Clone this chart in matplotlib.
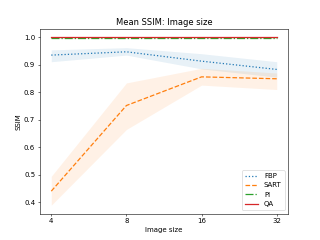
import numpy as np
import matplotlib
matplotlib.use("Agg")
from matplotlib import pyplot as plt

# image sizes and mean SSIM per method, with the shaded band limits
sizes = [4, 8, 16, 32]
methods = ["FBP", "SART", "PI", "QA"]

fbp = [0.935, 0.947, 0.913, 0.883]
fbp_lo = [0.911, 0.935, 0.885, 0.855]
fbp_hi = [0.954, 0.962, 0.940, 0.911]

sart = [0.441, 0.752, 0.856, 0.849]
sart_lo = [0.390, 0.665, 0.826, 0.810]
sart_hi = [0.495, 0.834, 0.887, 0.870]

pi = [0.996, 0.996, 0.996, 0.996]
pi_lo = [0.994, 0.994, 0.994, 0.994]
pi_hi = [0.998, 0.998, 0.998, 0.998]

qa = [1.0, 1.0, 1.0, 1.0]
qa_lo = [0.999, 0.999, 0.999, 0.999]
qa_hi = [1.0, 1.0, 1.0, 1.0]

fig, ax = plt.subplots(figsize=(6.4, 4.8), dpi=50)

x = np.arange(len(sizes))
series = [(fbp, fbp_lo, fbp_hi, "tab:blue", ":"),
          (sart, sart_lo, sart_hi, "tab:orange", "--"),
          (pi, pi_lo, pi_hi, "tab:green", "-."),
          (qa, qa_lo, qa_hi, "tab:red", "-")]

for name, (mean, lo, hi, col, ls) in zip(methods, series):
    ax.fill_between(x, lo, hi, color=col, alpha=0.1, linewidth=0)
    ax.plot(x, mean, color=col, linestyle=ls, linewidth=1.8, label=name)

ax.set_xticks(x)
ax.set_xticklabels([str(s) for s in sizes])
ax.set_xlabel("Image size")
ax.set_ylabel("SSIM")
ax.set_title("Mean SSIM: Image size")
ax.legend(loc="lower right")

fig.savefig("out.png", dpi=50)
